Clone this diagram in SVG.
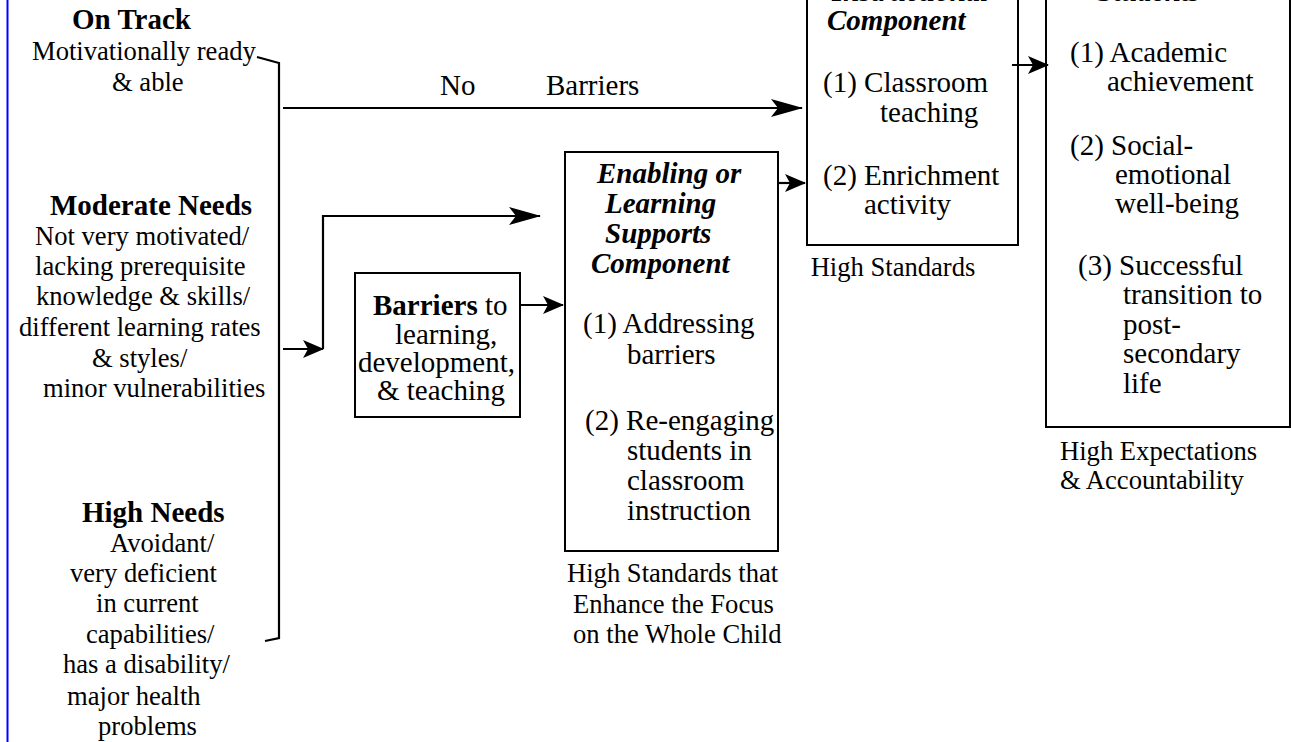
<svg xmlns="http://www.w3.org/2000/svg" width="1291" height="742" viewBox="0 0 1291 742">
  <style>
    text { font-family: "Liberation Serif", "Times New Roman", serif; fill: #000; }
    .hd { font-weight: bold; font-size: 29px; }
    .bd { font-size: 26.6px; }
    .bx { font-size: 29px; }
    .lb { font-size: 26.6px; }
    .bi { font-weight: bold; font-style: italic; font-size: 29px; }
    .box { fill: #fff; stroke: #000; stroke-width: 2; }
    .wire { fill: none; stroke: #000; stroke-width: 2.2; }
  </style>
  <defs>
    <marker id="head-lg" viewBox="0 0 32 20" refX="31" refY="10" markerWidth="32" markerHeight="20" markerUnits="userSpaceOnUse" orient="auto">
      <path d="M0,1 L32,10 L0,19 L7,10 Z" fill="#000"/>
    </marker>
    <marker id="head-sm" viewBox="0 0 21 18" refX="20" refY="9" markerWidth="21" markerHeight="18" markerUnits="userSpaceOnUse" orient="auto">
      <path d="M0,0 L21,9 L0,18 L5,9 Z" fill="#000"/>
    </marker>
  </defs>

  <rect x="0" y="0" width="1291" height="742" fill="#fff"/>
  <!-- page margin rule -->
  <line x1="7.5" y1="0" x2="7.5" y2="742" stroke="#0000ff" stroke-width="2"/>

  <!-- student groups -->
  <g id="on-track">
    <text class="hd" x="72" y="29">On Track</text>
    <text class="bd" x="32" y="60">Motivationally ready</text>
    <text class="bd" x="112" y="91">&amp; able</text>
  </g>

  <g id="moderate-needs">
    <text class="hd" x="50" y="215">Moderate Needs</text>
    <text class="bd" x="35" y="245">Not very motivated/</text>
    <text class="bd" x="35" y="275">lacking prerequisite</text>
    <text class="bd" x="36" y="305">knowledge &amp; skills/</text>
    <text class="bd" x="19" y="336">different learning rates</text>
    <text class="bd" x="92" y="367">&amp; styles/</text>
    <text class="bd" x="43" y="397">minor vulnerabilities</text>
  </g>

  <g id="high-needs">
    <text class="hd" x="82" y="522">High Needs</text>
    <text class="bd" x="110" y="552">Avoidant/</text>
    <text class="bd" x="70" y="582">very deficient</text>
    <text class="bd" x="96" y="612">in current</text>
    <text class="bd" x="86" y="643">capabilities/</text>
    <text class="bd" x="63" y="673">has a disability/</text>
    <text class="bd" x="67" y="705">major health</text>
    <text class="bd" x="98" y="735">problems</text>
  </g>

  <!-- barriers box -->
  <g id="barriers">
    <rect class="box" x="355" y="273" width="165" height="144"/>
    <text class="bx" x="373" y="315"><tspan font-weight="bold">Barriers</tspan> to</text>
    <text class="bx" x="395" y="344">learning,</text>
    <text class="bx" x="358" y="372">development,</text>
    <text class="bx" x="377" y="400">&amp; teaching</text>
  </g>

  <!-- enabling / learning supports component -->
  <g id="enabling">
    <rect class="box" x="565" y="152" width="213" height="399"/>
    <text class="bi" x="597" y="183">Enabling or</text>
    <text class="bi" x="605" y="213">Learning</text>
    <text class="bi" x="605" y="243">Supports</text>
    <text class="bi" x="591" y="273">Component</text>
    <text class="bx" x="583" y="333">(1) Addressing</text>
    <text class="bx" x="627" y="364">barriers</text>
    <text class="bx" x="585" y="430">(2) Re-engaging</text>
    <text class="bx" x="627" y="460">students in</text>
    <text class="bx" x="627" y="490">classroom</text>
    <text class="bx" x="627" y="520">instruction</text>
    <text class="lb" x="567" y="582">High Standards that</text>
    <text class="lb" x="573" y="613">Enhance the Focus</text>
    <text class="lb" x="573" y="643">on the Whole Child</text>
  </g>

  <!-- instructional component -->
  <g id="instructional">
    <rect class="box" x="807" y="-20" width="211" height="265"/>
    <text class="bi" font-size="34" x="832" y="1">Instructional</text>
    <text class="bi" font-size="34" x="827" y="30">Component</text>
    <text class="bx" x="823" y="92">(1) Classroom</text>
    <text class="bx" font-size="33" x="880" y="122">teaching</text>
    <text class="bx" x="823" y="185">(2) Enrichment</text>
    <text class="bx" x="864" y="214">activity</text>
    <text class="lb" x="893" y="276" text-anchor="middle">High Standards</text>
  </g>

  <!-- outcomes for students -->
  <g id="outcomes">
    <rect class="box" x="1046" y="-20" width="244" height="447"/>
    <text class="bi" x="1097" y="1">Students</text>
    <text class="bx" x="1070" y="62">(1) Academic</text>
    <text class="bx" x="1107" y="91">achievement</text>
    <text class="bx" x="1070" y="155">(2) Social-</text>
    <text class="bx" x="1115" y="184">emotional</text>
    <text class="bx" x="1115" y="213">well-being</text>
    <text class="bx" x="1078" y="275">(3) Successful</text>
    <text class="bx" x="1123" y="304">transition to</text>
    <text class="bx" x="1123" y="334">post-</text>
    <text class="bx" x="1123" y="363">secondary</text>
    <text class="bx" x="1123" y="393">life</text>
    <text class="lb" x="1060" y="460">High Expectations</text>
    <text class="lb" x="1060" y="489">&amp; Accountability</text>
  </g>

  <!-- connectors -->
  <g id="connectors">
    <path class="wire" d="M257,57 L279,63 L279,638 L265,641"/>
    <path class="wire" d="M283,108 L802,108" marker-end="url(#head-lg)"/>
    <text class="bx" x="440" y="95">No</text>
    <text class="bx" x="546" y="95">Barriers</text>
    <path class="wire" d="M283,349 L323,349" marker-end="url(#head-sm)"/>
    <path class="wire" d="M323,349 L323,216 L540,216" marker-end="url(#head-lg)"/>
    <path class="wire" d="M520,305 L563,305" marker-end="url(#head-sm)"/>
    <path class="wire" d="M778,183 L805,183" marker-end="url(#head-sm)"/>
    <path class="wire" d="M1012,65 L1048,65" marker-end="url(#head-sm)"/>
  </g>
</svg>
